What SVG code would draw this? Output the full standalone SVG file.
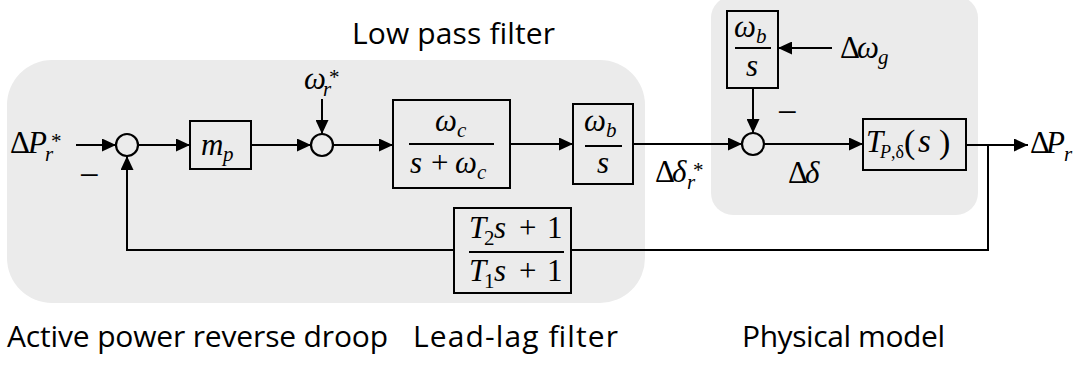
<svg xmlns="http://www.w3.org/2000/svg" width="1081" height="367" viewBox="0 0 1081 367">
<style>
.region{fill:#ebebeb;stroke:none}
.box{fill:none;stroke:#000;stroke-width:2}
.sum{fill:none;stroke:#000;stroke-width:2.2}
.wire{fill:none;stroke:#000;stroke-width:2}
.bar{stroke:#000;stroke-width:2}
.t{font-family:"Open Sans","Liberation Sans",sans-serif;font-size:30px;fill:#000}
.m{font-family:"Liberation Serif","DejaVu Serif",serif;font-size:31px;fill:#000}
.i{font-style:italic}
.s{font-size:21px}
.sup{font-size:21px}
.minus{font-family:"Liberation Serif","DejaVu Serif",serif;font-size:36px;fill:#000}
</style>
<defs>
<marker id="arr" markerUnits="userSpaceOnUse" markerWidth="14" markerHeight="13" refX="14" refY="6.5" orient="auto"><path d="M0,0 L14,6.5 L0,13 z" fill="#000"/></marker>
</defs>

<g id="regions">
<rect class="region" x="7" y="60" width="638" height="243" rx="45" ry="45"/>
<rect class="region" x="711" y="-4" width="267" height="219" rx="22" ry="22"/>
</g>

<g id="titles">
<text class="t" x="352" y="44" textLength="203">Low pass filter</text>
<text class="t" x="7" y="347" textLength="381">Active power reverse droop</text>
<text class="t" x="413" y="347" textLength="205">Lead-lag filter</text>
<text class="t" x="742" y="347" textLength="203">Physical model</text>
</g>

<g id="connectors">
<path class="wire" d="M76,145 H116" marker-end="url(#arr)"/>
<path class="wire" d="M138,145 H190" marker-end="url(#arr)"/>
<path class="wire" d="M251,145 H311" marker-end="url(#arr)"/>
<path class="wire" d="M322,99 V134" marker-end="url(#arr)"/>
<path class="wire" d="M333,145 H393" marker-end="url(#arr)"/>
<path class="wire" d="M510,144 H573" marker-end="url(#arr)"/>
<path class="wire" d="M633,144 H742" marker-end="url(#arr)"/>
<path class="wire" d="M753,88 V133" marker-end="url(#arr)"/>
<path class="wire" d="M832,48 H778" marker-end="url(#arr)"/>
<path class="wire" d="M764,144 H863" marker-end="url(#arr)"/>
<path class="wire" d="M966,145 H1028" marker-end="url(#arr)"/>
<path class="wire" d="M988,145 V250 H571"/>
<path class="wire" d="M454,250 H127 V156" marker-end="url(#arr)"/>
</g>

<g id="input-dPr">
<text class="m" x="10" y="153">Δ<tspan class="i" x="28">P</tspan><tspan class="s i" x="45" y="161">r</tspan><tspan class="sup" x="51" y="148">*</tspan></text>
</g>

<g id="sum1">
<circle class="sum" cx="127" cy="145" r="11"/>
<text class="minus" x="79" y="187">−</text>
</g>

<g id="mp">
<rect class="box" x="190" y="121" width="61" height="48"/>
<text class="m" x="201" y="155"><tspan class="i">m</tspan><tspan class="s i" x="223" y="161">p</tspan></text>
</g>

<g id="input-wr">
<text class="m" x="304" y="89"><tspan class="i">ω</tspan><tspan class="s i" x="323" y="96">r</tspan><tspan class="sup" x="329" y="84">*</tspan></text>
</g>

<g id="sum2">
<circle class="sum" cx="322" cy="145" r="11"/>
</g>

<g id="lpf">
<rect class="box" x="393" y="100" width="117" height="88"/>
<text class="m" x="435" y="131"><tspan class="i">ω</tspan><tspan class="s i" x="457" y="137">c</tspan></text>
<line class="bar" x1="409" y1="144" x2="494" y2="144"/>
<text class="m" x="410" y="173"><tspan class="i">s</tspan><tspan x="431">+</tspan><tspan class="i" x="455">ω</tspan><tspan class="s i" x="477" y="179">c</tspan></text>
</g>

<g id="int1">
<rect class="box" x="573" y="104" width="60" height="80"/>
<text class="m" x="584" y="131"><tspan class="i">ω</tspan><tspan class="s i" x="606" y="137">b</tspan></text>
<line class="bar" x1="585" y1="146" x2="622" y2="146"/>
<text class="m i" x="597" y="173">s</text>
</g>

<g id="label-ddr">
<text class="m" x="655" y="182">Δ<tspan class="i" x="672">δ</tspan><tspan class="s i" x="687" y="189">r</tspan><tspan class="sup" x="693" y="177">*</tspan></text>
</g>

<g id="int2">
<rect class="box" x="727" y="11" width="51" height="77"/>
<text class="m" x="734" y="37"><tspan class="i">ω</tspan><tspan class="s i" x="756" y="43">b</tspan></text>
<line class="bar" x1="735" y1="48" x2="771" y2="48"/>
<text class="m i" x="746" y="76">s</text>
</g>

<g id="input-dwg">
<text class="m" x="840" y="58">Δ<tspan class="i" x="857">ω</tspan><tspan class="s i" x="878" y="64">g</tspan></text>
</g>

<g id="sum3">
<circle class="sum" cx="753" cy="144" r="11"/>
<text class="minus" x="777" y="124">−</text>
</g>

<g id="label-dd">
<text class="m" x="788" y="183">Δ<tspan class="i" x="805">δ</tspan></text>
</g>

<g id="plant">
<rect class="box" x="863" y="119" width="103" height="51"/>
<text class="m" x="866" y="152"><tspan class="i">T</tspan><tspan x="880" y="158" style="font-size:18px"><tspan class="i">P</tspan>,δ</tspan><tspan x="904" y="153" style="font-size:34px">(</tspan><tspan class="i" x="918" y="152" style="font-size:33px">s</tspan><tspan x="939" y="153" style="font-size:34px">)</tspan></text>
</g>

<g id="output-dPr">
<text class="m" x="1030" y="153">Δ<tspan class="i" x="1046">P</tspan><tspan class="s i" x="1064" y="161">r</tspan></text>
</g>

<g id="leadlag">
<rect class="box" x="454" y="208" width="117" height="85"/>
<text class="m" x="469" y="238"><tspan class="i">T</tspan><tspan class="s" x="484" y="245">2</tspan><tspan class="i" x="494" y="238">s</tspan><tspan x="519">+</tspan><tspan x="547">1</tspan></text>
<line class="bar" x1="469" y1="252" x2="564" y2="252"/>
<text class="m" x="469" y="281"><tspan class="i">T</tspan><tspan class="s" x="484" y="288">1</tspan><tspan class="i" x="494" y="281">s</tspan><tspan x="519">+</tspan><tspan x="547">1</tspan></text>
</g>
</svg>
